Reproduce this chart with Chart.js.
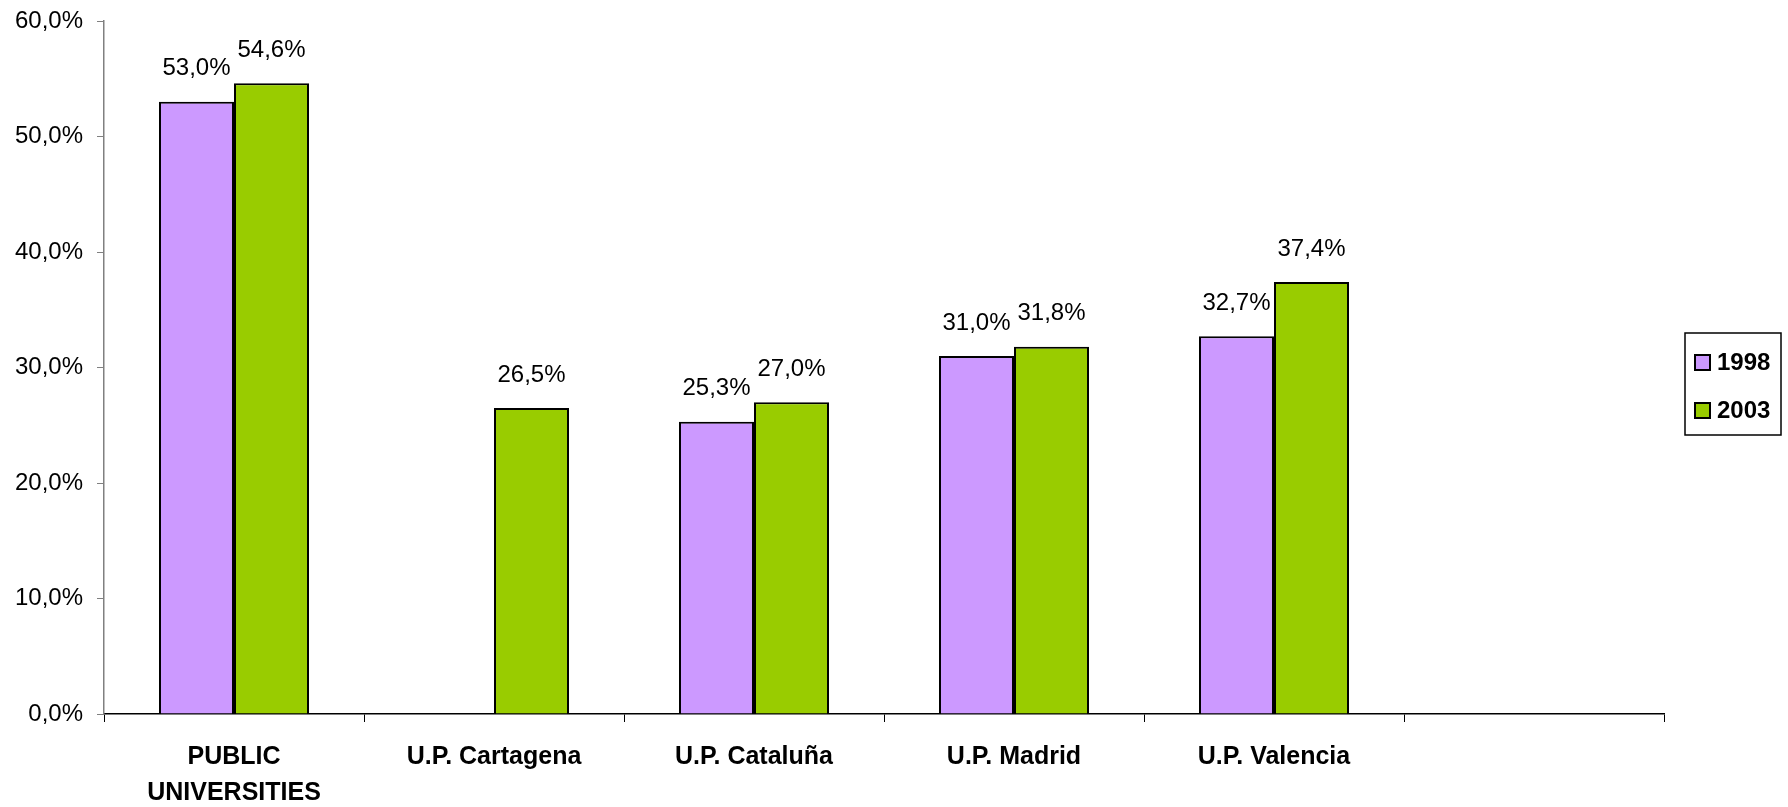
<!DOCTYPE html>
<html>
<head>
<meta charset="utf-8">
<script src="https://cdn.jsdelivr.net/npm/chart.js@4"></script>
<style>
  html, body { margin: 0; padding: 0; background: #fff; }
  #wrap { width: 1788px; height: 807px; }
</style>
</head>
<body>
<div id="wrap"><canvas id="uniChart" width="1788" height="807"></canvas></div>
<script>
// datos del gráfico
const categories = [["PUBLIC", "UNIVERSITIES"], "U.P. Cartagena", "U.P. Cataluña", "U.P. Madrid", "U.P. Valencia", ""];
const seriesNames = ["1998", "2003"];
const values1998 = [53.0, null, 25.3, 31.0, 32.7, null];
const values2003 = [54.6, 26.5, 27.0, 31.8, 37.4, null];
const yTicks = [0, 10, 20, 30, 40, 50, 60];

const FONT = "'Liberation Sans', Arial, sans-serif";

function fmtPct(v) {
  return v.toFixed(1).replace(".", ",") + "%";
}

// etiquetas encima de cada barra
const barLabels = {
  id: "barLabels",
  afterDatasetsDraw(chart) {
    const ctx = chart.ctx;
    ctx.save();
    ctx.font = "24px " + FONT;
    ctx.fillStyle = "#000";
    ctx.textAlign = "center";
    ctx.textBaseline = "middle";
    chart.data.datasets.forEach((ds, i) => {
      const meta = chart.getDatasetMeta(i);
      meta.data.forEach((bar, j) => {
        const v = ds.data[j];
        if (v === null || v === undefined) return;
        ctx.fillText(fmtPct(v), bar.x, bar.y - 33);
      });
    });
    ctx.restore();
  },
};

// leyenda con recuadro a la derecha
const boxLegend = {
  id: "boxLegend",
  afterDraw(chart) {
    const ctx = chart.ctx;
    const left = 1685, top = 333, w = 96, h = 102;
    ctx.save();
    ctx.strokeStyle = "#000";
    ctx.lineWidth = 1.5;
    ctx.strokeRect(left, top, w, h);
    ctx.font = "bold 24px " + FONT;
    ctx.textBaseline = "middle";
    ctx.textAlign = "left";
    chart.data.datasets.forEach((ds, i) => {
      const cy = top + 29 + i * 48;
      ctx.fillStyle = ds.backgroundColor;
      ctx.fillRect(left + 10, cy - 7, 15, 15);
      ctx.lineWidth = 2;
      ctx.strokeRect(left + 10, cy - 7, 15, 15);
      ctx.fillStyle = "#000";
      ctx.fillText(ds.label, left + 32, cy + 1);
    });
    ctx.restore();
  },
};

new Chart(document.getElementById("uniChart"), {
  type: "bar",
  data: {
    labels: categories,
    datasets: [
      {
        label: seriesNames[0],
        data: values1998,
        backgroundColor: "#CC99FF",
        borderColor: "#000",
        borderWidth: 2,
        barPercentage: 1.0,
        categoryPercentage: 0.577,
      },
      {
        label: seriesNames[1],
        data: values2003,
        backgroundColor: "#99CC00",
        borderColor: "#000",
        borderWidth: 2,
        barPercentage: 1.0,
        categoryPercentage: 0.577,
      },
    ],
  },
  options: {
    responsive: false,
    animation: false,
    layout: { padding: { top: 21, right: 124, left: 0, bottom: 0 } },
    plugins: {
      legend: { display: false },
      tooltip: { enabled: false },
    },
    scales: {
      x: {
        grid: {
          display: true,
          drawOnChartArea: false,
          drawTicks: true,
          tickLength: 8,
          color: "#000",
          offset: true,
        },
        border: { color: "#000", width: 1.5 },
        ticks: {
          color: "#000",
          font: { family: FONT, size: 25, weight: "bold", lineHeight: 1.44 },
          padding: 17,
          maxRotation: 0,
          autoSkip: false,
        },
        afterFit(scale) {
          scale.height = 93;
        },
      },
      y: {
        min: yTicks[0],
        max: yTicks[yTicks.length - 1],
        afterBuildTicks(scale) {
          scale.ticks = yTicks.map((v) => ({ value: v }));
        },
        grid: {
          display: true,
          drawOnChartArea: false,
          drawTicks: true,
          tickLength: 7,
          color: "#808080",
        },
        border: { color: "#808080", width: 1.5 },
        ticks: {
          color: "#000",
          font: { family: FONT, size: 24 },
          padding: 14,
          callback: (v) => fmtPct(v),
        },
        afterFit(scale) {
          scale.width = 104;
          scale.paddingTop = 0;
          scale.paddingBottom = 0;
        },
      },
    },
  },
  plugins: [barLabels, boxLegend],
});
</script>
</body>
</html>
